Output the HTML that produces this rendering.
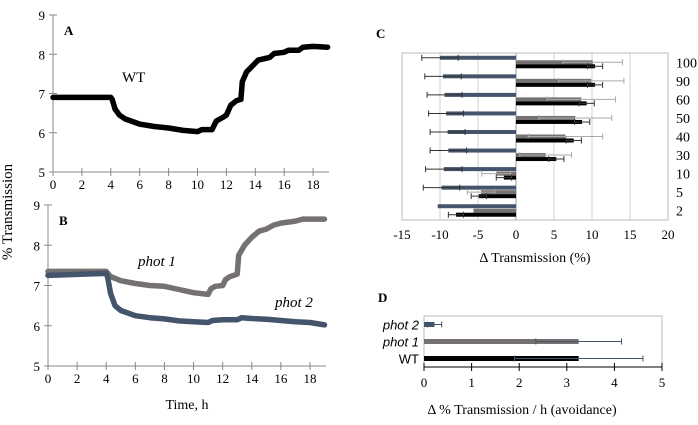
<!DOCTYPE html>
<html><head><meta charset="utf-8"><style>
body{margin:0;background:#fff}
svg{display:block;font-family:"Liberation Serif",serif}
</style></head><body>
<svg width="698" height="425" viewBox="0 0 698 425">
<g id="pa"></g>
<g id="pb"></g>
<g id="pc"></g>
<g id="pd"></g>
<text x="12" y="212" font-size="15" text-anchor="middle" transform="rotate(-90 12 212)">% Transmission</text>
</svg>
<script>
// Panel A data
const wtT=[0,4,4.1,4.3,4.6,5,6,7,8,9,10,10.3,11,11.3,11.8,12,12.3,12.7,13,13.1,13.4,13.8,14.2,15,15.3,16,16.3,17,17.3,18,19];
const wtV=[6.9,6.9,6.85,6.6,6.45,6.35,6.22,6.16,6.12,6.06,6.03,6.08,6.08,6.3,6.4,6.45,6.7,6.82,6.85,7.3,7.55,7.7,7.85,7.92,8.02,8.05,8.1,8.1,8.18,8.2,8.18];
// Panel B data
const p1T=[0,4,4.3,5,6,7,8,9,10,11,11.2,11.5,12,12.2,12.5,13,13.1,13.5,14,14.5,15,15.5,16,17,17.5,19];
const p1V=[7.35,7.35,7.22,7.12,7.05,7.0,6.98,6.9,6.82,6.78,6.92,6.98,7.0,7.15,7.22,7.28,7.75,8.0,8.2,8.35,8.4,8.5,8.55,8.6,8.65,8.65];
const p2T=[0,4,4.1,4.3,4.6,5,6,7,8,9,10,11,11.3,12,13,13.3,14,15,16,17,18,19];
const p2V=[7.25,7.3,7.2,6.8,6.5,6.38,6.25,6.2,6.17,6.12,6.1,6.08,6.13,6.15,6.15,6.2,6.18,6.16,6.13,6.1,6.08,6.02];
const timeTicks=[0,2,4,6,8,10,12,14,16,18];
const transTicks=[5,6,7,8,9];
// Panel C data
const cCats=["100","90","60","50","40","30","10","5","2"];
const cBlue=[-10,-9.6,-9.4,-9.2,-9.0,-8.9,-9.5,-9.8,-10.3];
const cBlueErr=[2.4,2.4,2.3,2.3,2.3,2.4,2.4,2.4,0];
const cGrey=[10.1,9.9,8.6,7.8,6.5,3.9,-2.6,-4.6,-5.6];
const cGreyErr=[3.9,4.3,4.5,4.8,4.9,3.4,1.9,1.8,0];
const cBlack=[10.4,10.4,9.3,8.7,7.6,5.3,-1.6,-4.9,-7.9];
const cBlackErr=[1.0,1.0,1.0,1.0,1.0,1.0,1.0,1.0,1.0];
const cTicks=[-15,-10,-5,0,5,10,15,20];
// Panel D data
const dCats=["phot 2","phot 1","WT"];
const dVals=[0.22,3.25,3.25];
const dErr=[0.15,0.9,1.35];
const dTicks=[0,1,2,3,4,5];

const NS="http://www.w3.org/2000/svg";
function mk(p,tag,a,txt){const e=document.createElementNS(NS,tag);for(const k in a)e.setAttribute(k,a[k]);if(txt!==undefined)e.textContent=txt;p.appendChild(e);return e;}

function linePanel(g,x0,x1,y5,y9,series,label){
  const sx=t=>x0+(x1-x0)*t/19.1, sy=v=>y5+(y9-y5)*(v-5)/4;
  let a=mk(g,'line',{x1:x0,y1:y5,x2:x0,y2:y9,stroke:'#888'});
  a=mk(g,'line',{x1:x0,y1:y5,x2:x1,y2:y5,stroke:'#888'});
  transTicks.forEach(v=>{mk(g,'line',{x1:x0-4,x2:x0+4,y1:sy(v),y2:sy(v),stroke:'#888'});
    const t=mk(g,'text',{x:x0-8,y:sy(v)+5,'font-size':13,'text-anchor':'end'},v);});
  timeTicks.forEach(v=>{mk(g,'line',{x1:sx(v),x2:sx(v),y1:y5-4,y2:y5+4,stroke:'#888'});
    const t=mk(g,'text',{x:sx(v),y:y5+17,'font-size':13,'text-anchor':'middle'},v);});
  series.forEach(s=>{const d=s.t.map((t,i)=>(i?'L':'M')+sx(t).toFixed(1)+' '+sy(s.v[i]).toFixed(1)).join('');
    const p=mk(g,'path',{d:d,fill:'none',stroke:s.c,'stroke-width':5.5,'stroke-linejoin':'round','stroke-linecap':'round'});
    });
  const l=mk(g,'text',{x:x0+11,y:y9+20,'font-size':13,'font-weight':'bold'},label);
}
const pa=document.getElementById('pa'),pb=document.getElementById('pb');
linePanel(pa,53,329,172,15,[{t:wtT,v:wtV,c:'#000',n:'wt-line'}],'A');
let t=mk(pa,'text',{x:122,y:82,'font-size':15},'WT');
linePanel(pb,48,326,366,205,[{t:p1T,v:p1V,c:'#767171',n:'phot1-line'},{t:p2T,v:p2V,c:'#44546a',n:'phot2-line'}],'B');
t=mk(pb,'text',{x:138,y:266,'font-size':15,'font-style':'italic'},'phot 1');
t=mk(pb,'text',{x:275,y:307,'font-size':15,'font-style':'italic'},'phot 2');
t=mk(pb,'text',{x:187,y:409,'font-size':14,'text-anchor':'middle'},'Time, h');

// Panel C
const pc=document.getElementById('pc');
const cx0=402,cx1=668,cy0=53,cy1=220;
const csx=v=>cx0+(cx1-cx0)*(v+15)/35;
const bandH=(cy1-cy0)/cCats.length;
cTicks.forEach(v=>{const l=mk(pc,'line',{x1:csx(v),x2:csx(v),y1:cy0,y2:cy1,stroke:v===0?'#999':'#d0d0d0'});
  const tx=mk(pc,'text',{x:csx(v),y:cy1+19,'font-size':13,'text-anchor':'middle'},v);});
let r=mk(pc,'rect',{x:cx0,y:cy0,width:cx1-cx0,height:cy1-cy0,fill:'none',stroke:'#bbb'});
function hbar(g,v,y,h,col,err,ecol,sx,name){
  const x=Math.min(sx(0),sx(v)),w=Math.abs(sx(v)-sx(0));
  const b=mk(g,'rect',{x:x,y:y-h/2,width:w,height:h,fill:col});
  if(err>0){const e1=sx(v-err),e2=sx(v+err);
    const e=mk(g,'path',{d:`M${e1} ${y}H${e2}M${e1} ${y-3}V${y+3}M${e2} ${y-3}V${y+3}`,stroke:ecol,'stroke-width':1,fill:'none'});}
}
cCats.forEach((c,i)=>{const yc=cy0+bandH*(i+0.5);
  hbar(pc,cBlue[i],yc-4.5,4,'#44546a',cBlueErr[i],'#333',csx,'bar-phot2-'+c);
  hbar(pc,cGrey[i],yc,4,'#767171',cGreyErr[i],'#aaa',csx,'bar-phot1-'+c);
  hbar(pc,cBlack[i],yc+4,4,'#000',cBlackErr[i],'#333',csx,'bar-wt-'+c);
  const tx=mk(pc,'text',{x:676,y:yc+5,'font-size':14},c);});
t=mk(pc,'text',{x:535,y:262,'font-size':14,'text-anchor':'middle'},'Δ Transmission (%)');
t=mk(pc,'text',{x:376,y:38,'font-size':13,'font-weight':'bold'},'C');

// Panel D
const pd=document.getElementById('pd');
const dx0=424,dx1=662,dy0=316,dy1=367;
const dsx=v=>dx0+(dx1-dx0)*v/5;
r=mk(pd,'rect',{x:dx0,y:dy0,width:dx1-dx0,height:dy1-dy0,fill:'none',stroke:'#bbb'});
let ax=mk(pd,'line',{x1:dx0,x2:dx1,y1:dy1,y2:dy1,stroke:'#000'});
dTicks.forEach(v=>{mk(pd,'line',{x1:dsx(v),x2:dsx(v),y1:dy1-4,y2:dy1+4,stroke:'#000'});
  const tx=mk(pd,'text',{x:dsx(v),y:dy1+20,'font-size':13,'text-anchor':'middle'},v);});
const dCols=['#44546a','#767171','#000'];
const dH=(dy1-dy0)/3;
dCats.forEach((c,i)=>{const yc=dy0+dH*(i+0.5);
  hbar(pd,dVals[i],yc,5,dCols[i],dErr[i],'#44546a',dsx,'bar-'+c.replace(' ',''));
  const tx=mk(pd,'text',{x:419,y:yc+5,'font-size':13,'text-anchor':'end','font-family':'Liberation Sans, sans-serif','font-style':i<2?'italic':'normal'},c);
  });
t=mk(pd,'text',{x:522,y:414,'font-size':14,'text-anchor':'middle'},'Δ % Transmission / h (avoidance)');
t=mk(pd,'text',{x:378,y:302,'font-size':13,'font-weight':'bold'},'D');
</script>
</body></html>
